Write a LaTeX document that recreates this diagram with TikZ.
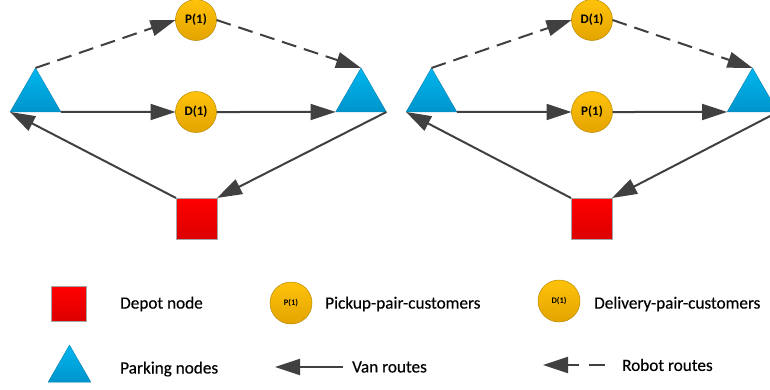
\documentclass[tikz,border=0pt]{standalone}
\usepackage{fontspec}
\setmainfont{Carlito}
\newfontfamily\lblfont{Carlito}[FakeBold=0.35]
\usetikzlibrary{shapes.geometric,arrows.meta}
\definecolor{arr}{HTML}{404040}
\definecolor{triT}{HTML}{00B6EE}
\definecolor{triB}{HTML}{0094CC}
\definecolor{cirT}{HTML}{FFC20A}
\definecolor{cirB}{HTML}{E3A400}
\definecolor{cirD}{HTML}{B98A00}
\definecolor{sqT}{HTML}{FF0000}
\definecolor{sqB}{HTML}{DC0000}
\tikzset{
  park/.style={regular polygon, regular polygon sides=3, inner sep=0pt, outer sep=0pt,
    minimum size=#1, top color=triT, bottom color=triB, draw=triB!80!black, line width=0.3pt},
  park/.default=58.7pt,
  cust/.style={circle, inner sep=0pt, outer sep=0pt, minimum size=#1, top color=cirT, bottom color=cirB,
    draw=cirD, line width=0.5pt, font=\bfseries\fontsize{13}{15}\selectfont},
  cust/.default=41pt,
  depot/.style={rectangle, inner sep=0pt, outer sep=0pt, minimum size=#1, top color=sqT, bottom color=sqB,
    draw=gray!70, line width=0.4pt},
  depot/.default=41pt,
  van/.style={draw=arr, line width=2pt, -{Triangle[length=25pt,width=16pt]}},
  robot/.style={van, dash pattern=on 15pt off 8pt},
  lbl/.style={anchor=west, inner sep=0pt, font=\lblfont\fontsize{17.2}{20}\selectfont, text=black}
}
\begin{document}
\begin{tikzpicture}[x=1pt,y=-1pt]
\useasboundingbox (0,0) rectangle (770,389);
% ---------- left diagram ----------
\node[park] (aL) at (35.5,97.3) {};
\node[park] (aR) at (361,97.3) {};
\node[cust] (aP) at (196,20) {P(1)};
\node[cust] (aD) at (196,112) {D(1)};
\node[depot] (aS) at (196.5,218.5) {};
\draw[robot] (aL.corner 1) -- (aP.west);
\draw[robot] (aP.east) -- (aR.corner 1);
\draw[van] (aL.corner 3) -- (aD.west);
\draw[van] (aD.east) -- (aR.corner 2);
\draw[van] (aR.corner 3) -- (aS.north east);
\draw[van] (aS.north west) -- (aL.corner 2);
% ---------- right diagram ----------
\begin{scope}
\clip (0,0) rectangle (770,389);
\node[park] (bL) at (431.5,97.3) {};
\node[park] (bR) at (752.5,97.3) {};
\node[cust] (bD) at (592,20) {D(1)};
\node[cust] (bP) at (592,112) {P(1)};
\node[depot] (bS) at (591.5,218.5) {};
\draw[robot] (bL.corner 1) -- (bD.west);
\draw[robot] (bD.east) -- (bR.corner 1);
\draw[van] (bL.corner 3) -- (bP.west);
\draw[van] (bP.east) -- (bR.corner 2);
\draw[van] (bR.corner 3) -- (bS.north east);
\draw[van] (bS.north west) -- (bL.corner 2);
\end{scope}
% ---------- legend ----------
\node[depot=35pt] (lS) at (68.5,304) {};
\node[lbl] (tS) at (120,304) {Depot node};
\node[cust=42pt, font=\bfseries\fontsize{8.5}{10}\selectfont] (lP) at (291,303) {P(1)};
\node[lbl] (tP) at (325,304) {Pickup-pair-customers};
\node[cust=42pt, font=\bfseries\fontsize{8.5}{10}\selectfont] (lD) at (559,301) {D(1)};
\node[lbl] (tD) at (594,304) {Delivery-pair-customers};
\node[park=49.6pt] (lT) at (69.5,369.8) {};
\node[lbl] (tT) at (120,369) {Parking nodes};
\coordinate (vA) at (343,367);
\coordinate (vB) at (275,367);
\draw[van] (vA) -- (vB);
\node[lbl] (tV) at (352,367) {Van routes};
\coordinate (rA) at (605,365);
\coordinate (rB) at (543,365);
\draw[van, dash pattern=on 16pt off 10pt on 60pt] (rA) -- (rB);
\node[lbl] (tR) at (622,365) {Robot routes};
\end{tikzpicture}
\end{document}
